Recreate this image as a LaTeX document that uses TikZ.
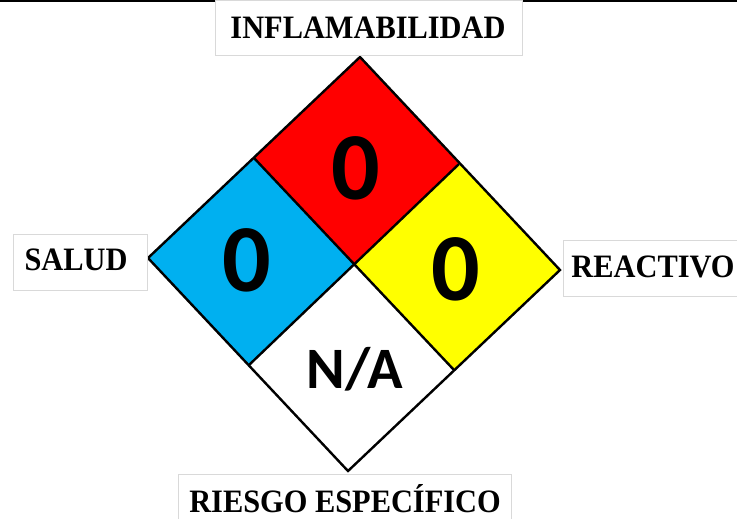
\documentclass[tikz,border=0pt]{standalone}
\usepackage{fontspec}
\setmainfont{Liberation Serif}
\newfontfamily\rotulofont{Liberation Serif}[FakeStretch=0.93]
\newfontfamily\cifrafont{Carlito}
\usetikzlibrary{positioning}
\definecolor{rojoinf}{HTML}{FF0000}
\definecolor{azulsal}{HTML}{00B0F0}
\definecolor{amarreac}{HTML}{FFFF00}
\definecolor{grismarco}{HTML}{D9D9D9}
\tikzset{
	marco/.style={draw=grismarco, line width=0.75pt, fill=white},
	rotulo/.style={font=\rotulofont\bfseries\fontsize{24.5}{24.5}\selectfont, inner sep=0pt, anchor=base},
	cifra/.style={font=\cifrafont\bfseries\fontsize{72}{72}\selectfont, inner sep=0pt},
	borde/.style={draw=black, line width=1.8pt, line join=miter}
}
\begin{document}
\begin{tikzpicture}[x=0.75pt, y=-0.75pt]
			\useasboundingbox (0,0) rectangle (737,518);
			% Top rule
			\draw[line width=1.2pt] (0,0.8) -- (737,0.8);
			% Diamond corners
			\coordinate (arriba) at (360,57);
			\coordinate (izq) at (148,258);
			\coordinate (abajo) at (348,471);
			\coordinate (der) at (560,270);
			\coordinate (centro) at (354,264);
			\coordinate (ai) at (254,158);
			\coordinate (ad) at (459,164);
			\coordinate (bi) at (249,365);
			\coordinate (bd) at (454,370);
			% Colour fields
			\fill[rojoinf] (arriba) -- (ad) -- (centro) -- (ai) -- cycle;
			\fill[azulsal] (ai) -- (centro) -- (bi) -- (izq) -- cycle;
			\fill[amarreac] (ad) -- (der) -- (bd) -- (centro) -- cycle;
			\fill[white] (centro) -- (bd) -- (abajo) -- (bi) -- cycle;
			% Outline and inner lines
			\draw[borde] (arriba) -- (der) -- (abajo) -- (izq) -- cycle;
			\draw[borde] (ai) -- (bd);
			\draw[borde] (ad) -- (bi);
			% Ratings
			\node[cifra] (inflamable) at (356,168) {0};
			\node[cifra] (saludval) at (247,260) {0};
			\node[cifra] (reactval) at (456,269) {0};
			\node[cifra, font=\cifrafont\bfseries\fontsize{44}{44}\selectfont] (especval) at (355,369) {N/A};
			% Label boxes
			\draw[marco] (215,0) rectangle (522,55);
			\node[rotulo] (inflamabilidad) at (368,38) {INFLAMABILIDAD};
			\draw[marco] (13,234) rectangle (147,290);
			\node[rotulo] (salud) at (76,270) {SALUD};
			\draw[marco] (563,240) rectangle (745,296);
			\node[rotulo] (reactivo) at (653,277) {REACTIVO};
			\draw[marco] (178,474) rectangle (511,525);
			\node[rotulo] (riesgo) at (345,512) {RIESGO ESPECÍFICO};
		\end{tikzpicture}
\end{document}
